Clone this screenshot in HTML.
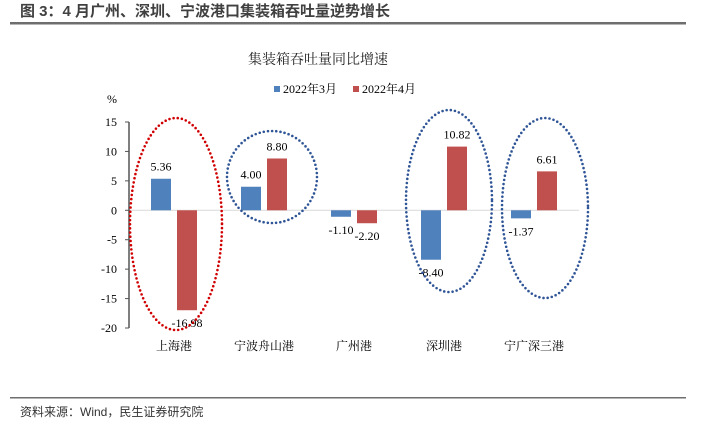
<!DOCTYPE html>
<html><head><meta charset="utf-8"><style>
body{margin:0;background:#fff;width:728px;height:446px;overflow:hidden;font-family:"Liberation Serif","Noto Serif CJK SC",serif}
svg{display:block}
</style></head><body>
<svg width="728" height="446">
<text x="20" y="16" font-family="Liberation Sans,Noto Sans CJK SC,sans-serif" font-weight="bold" font-size="15" fill="#404040">图 3：4 月广州、深圳、宁波港口集装箱吞吐量逆势增长</text>
<rect x="10" y="22" width="676" height="2.5" fill="#6e6e6e"/>
<text x="318" y="64" font-size="14" fill="#222" text-anchor="middle">集装箱吞吐量同比增速</text>
<rect x="274" y="86" width="6" height="6" fill="#4f81bd"/>
<text x="283" y="93" font-size="12">2022年3月</text>
<rect x="353" y="86" width="6" height="6" fill="#c0504d"/>
<text x="362" y="93" font-size="12">2022年4月</text>
<text x="112" y="103" font-size="12" text-anchor="middle">%</text>
<g id="plot"></g>
<rect x="10" y="397" width="676" height="1.5" fill="#6e6e6e"/>
<text x="20" y="416" font-family="Liberation Sans,Noto Sans CJK SC,sans-serif" font-size="12" fill="#333">资料来源：Wind，民生证券研究院</text>
</svg>
<script>
const categories=["上海港","宁波舟山港","广州港","深圳港","宁广深三港"];
const march=[5.36,4.00,-1.10,-8.40,-1.37];
const april=[-16.98,8.80,-2.20,10.82,6.61];
const yTicks=[15,10,5,0,-5,-10,-15,-20];
const NS="http://www.w3.org/2000/svg";
const g=document.getElementById("plot");
const x0=129,band=90,yTop=122,yBot=328,vMax=15,vMin=-20;
const y=v=>yTop+(vMax-v)*(yBot-yTop)/(vMax-vMin);
const xc=i=>x0+band*(i+0.5);
function el(t,a,txt){const e=document.createElementNS(NS,t);for(const k in a)e.setAttribute(k,a[k]);if(txt!=null)e.textContent=txt;g.appendChild(e);return e;}
let e=el("line",{x1:x0,x2:x0+band*categories.length,y1:y(0),y2:y(0),stroke:"#d9d9d9"});


e=el("line",{x1:x0,x2:x0,y1:yTop,y2:yBot,stroke:"#555","stroke-width":1.5});


yTicks.forEach(t=>{
 const l=el("line",{x1:x0-4,x2:x0,y1:y(t),y2:y(t),stroke:"#555"});
 
 
 const tx=el("text",{x:x0-12,y:y(t)+4,"font-size":12,"text-anchor":"end"},String(t));
 
 
});
categories.forEach((c,i)=>{
 const cx=xc(i);
 [[march[i],"#4f81bd",-23,"march"],[april[i],"#c0504d",3,"april"]].forEach(([v,col,off,s])=>{
  const r=el("rect",{x:cx+off,y:Math.min(y(v),y(0)),width:20,height:Math.abs(y(v)-y(0)),fill:col});
  
  
  const ly=v>=0?y(v)-8:y(v)+17;
  const t=el("text",{x:cx+off+10,y:ly,"font-size":12,"text-anchor":"middle"},v.toFixed(2));
  
  
 });
 const t=el("text",{x:cx,y:350,"font-size":12,"text-anchor":"middle"},c);
 
 
});
const ells=[[176,224,46,106,"#d00000"],[272,177,45,46,"#2f5597"],[449,201,43,91,"#2f5597"],[545,208,43,90,"#2f5597"]];
ells.forEach((a,i)=>{
 const o=el("ellipse",{cx:a[0],cy:a[1],rx:a[2],ry:a[3],fill:"none",stroke:a[4],"stroke-width":2.6,"stroke-dasharray":"0 4.2","stroke-linecap":"round"});
 
 
});
</script>
</body></html>
